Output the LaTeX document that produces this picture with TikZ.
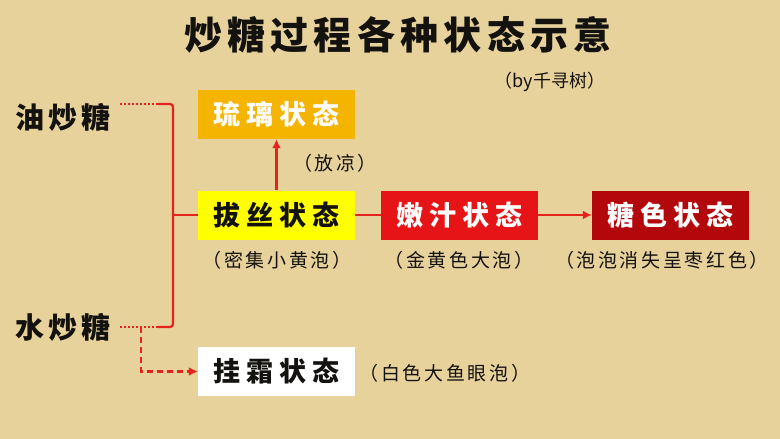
\documentclass[tikz,border=0pt]{standalone}
\usepackage{fontspec}
\newfontfamily\cjk{Noto Sans CJK SC}
\newfontfamily\cjks[LetterSpace=22]{Noto Sans CJK SC}
\newfontfamily\cjkt[LetterSpace=14]{Noto Sans CJK SC}
\usetikzlibrary{arrows.meta,calc}
\definecolor{bg}{RGB}{231,210,156}
\definecolor{boxorange}{RGB}{245,180,0}
\definecolor{boxyellow}{RGB}{255,255,0}
\definecolor{boxred}{RGB}{230,20,22}
\definecolor{boxdark}{RGB}{178,8,12}
\definecolor{linered}{RGB}{228,36,28}
\definecolor{ink}{RGB}{20,18,15}
\tikzset{
  statebox/.style={minimum width=157pt, minimum height=49pt, inner sep=0pt, font=\cjks\bfseries\fontsize{27}{27}\selectfont},
  lbl/.style={inner sep=0pt, text=ink, font=\cjkt\fontsize{19}{19}\selectfont},
  side/.style={inner sep=0pt, text=ink, font=\cjkt\bfseries\fontsize{29}{29}\selectfont},
  conn/.style={draw=linered, line width=2.3pt},
  dots/.style={conn, dash pattern=on 2pt off 2pt},
  dash6/.style={conn, dash pattern=on 6pt off 4pt},
  tip/.style={-{Latex[length=9pt,width=9pt]}}
}
\begin{document}
\begin{tikzpicture}[x=1pt,y=-1pt]
\useasboundingbox (0,0) rectangle (780,439);
\fill[bg] (0,0) rectangle (780,439);
% title
\node[inner sep=0pt, text=ink, font=\cjkt\bfseries\fontsize{38}{38}\selectfont] (title) at (398,35) {炒糖过程各种状态示意};
\node[inner sep=0pt, text=ink, font=\cjk\fontsize{18}{18}\selectfont] (by) at (550,82) {（by千寻树）};
% boxes
\node[statebox, fill=boxorange, text=white] (liuli) at (276.5,114.5) {琉璃状态};
\node[statebox, fill=boxyellow, text=ink] (basi) at (276.5,215) {拔丝状态};
\node[statebox, fill=boxred, text=white] (nenzhi) at (459.5,215) {嫩汁状态};
\node[statebox, fill=boxdark, text=white] (tangse) at (670.5,215) {糖色状态};
\node[statebox, fill=white, text=ink] (guashuang) at (276.5,371.5) {挂霜状态};
% labels
\node[lbl] (l1) at (335,163) {（放凉）};
\node[lbl] (l2) at (277,260) {（密集小黄泡）};
\node[lbl] (l3) at (459,260) {（金黄色大泡）};
\node[lbl] (l4) at (662,260) {（泡泡消失呈枣红色）};
\node[lbl] (l5) at (445,373) {（白色大鱼眼泡）};
% side labels
\node[side] (you) at (63,117) {油炒糖};
\node[side] (shui) at (63,327) {水炒糖};
% connector points
\coordinate (ys) at (120,104);
\coordinate (yd) at (158,104);
\coordinate (ss) at (120,327);
\coordinate (sd) at (158,327);
\coordinate (jc) at (173,215);
\coordinate (jd) at (141,327);
% connectors
\draw[dots] (ys) -- (yd);
\draw[dots] (ss) -- (sd);
\draw[conn, rounded corners=3pt] (yd) -- (173,104) -- (173,327) -- (sd);
\draw[conn] (jc) -- (basi.west);
\draw[dash6, tip] (jd) |- (guashuang.west);
\draw[conn, tip] (basi.north) -- (liuli.south);
\draw[conn] (basi.east) -- (nenzhi.west);
\draw[conn, tip] (nenzhi.east) -- (tangse.west);
\end{tikzpicture}
\end{document}
